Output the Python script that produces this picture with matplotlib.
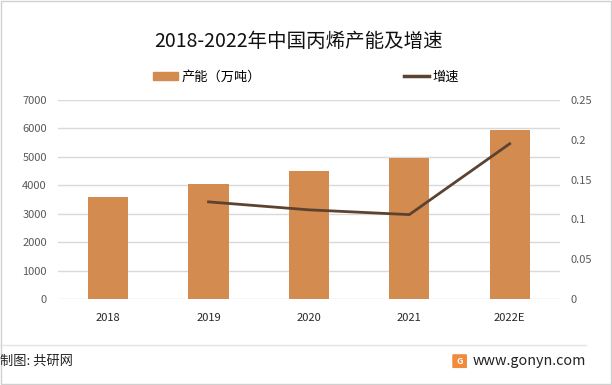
import matplotlib.pyplot as plt
from matplotlib.patches import FancyBboxPatch
from matplotlib.lines import Line2D

plt.rcParams['font.family'] = ['Noto Sans CJK SC', 'DejaVu Sans']

years = ["2018", "2019", "2020", "2021", "2022E"]
capacity = [3590, 4040, 4500, 4960, 5950]
growth_years = ["2019", "2020", "2021", "2022E"]
growth = [0.122, 0.112, 0.106, 0.195]

bar_color = "#D48B4F"
line_color = "#5C4331"

fig = plt.figure(figsize=(6.12, 3.85), dpi=100)
ax = fig.add_axes([0.0948, 0.2234, 0.82, 0.5169])
ax2 = ax.twinx()

x = list(range(len(years)))
ax.bar(x, capacity, width=0.4, color=bar_color, zorder=2)
gx = [years.index(y) for y in growth_years]
ax2.plot(gx, growth, color=line_color, lw=2, zorder=3)

ax.set_xlim(-0.5, len(years) - 0.5)
ax.set_ylim(0, 7000)
ax.set_yticks(range(0, 7001, 1000))
ax2.set_ylim(0, 0.25)
ax2.set_yticks([0, 0.05, 0.1, 0.15, 0.2, 0.25])
ax2.set_yticklabels(["0", "0.05", "0.1", "0.15", "0.2", "0.25"])
ax.set_xticks(x)
ax.set_xticklabels(years)

ax.grid(axis="y", color="#D9D9D9", lw=1, zorder=0)
ax.set_axisbelow(True)
for a in (ax, ax2):
    for s in a.spines.values():
        s.set_visible(False)
ax.tick_params(axis="y", length=0, labelsize=8, labelcolor="#595959", pad=8)
ax2.tick_params(axis="y", length=0, labelsize=8, labelcolor="#595959", pad=8)
ax.tick_params(axis="x", length=0, labelsize=8, labelcolor="#262626", pad=10)

fig.text(0.487, 0.893, "2018-2022年中国丙烯产能及增速", ha="center", va="center",
         fontsize=14, color="#111111")

handles = [plt.Rectangle((0, 0), 1, 1, color=bar_color),
           Line2D([0], [0], color=line_color, lw=2.5)]
fig.legend(handles, ["产能（万吨）", "增速"], loc="center", bbox_to_anchor=(0.5, 0.80),
           ncol=2, frameon=False, fontsize=9.5, columnspacing=10.9, handlelength=1.9,
           handleheight=0.55, handletextpad=0.2)

# footer
fig.add_artist(Line2D([0, 0.958], [0.103, 0.103], color="#E3E3E3", lw=1))
fig.text(0.0, 0.062, "制图: 共研网", ha="left", va="center", fontsize=9.5, color="#222222")
fig.text(0.958, 0.062, "www.gonyn.com", ha="right", va="center", fontsize=10.3, color="#222222")
logo = FancyBboxPatch((0.741, 0.046), 0.020, 0.032, boxstyle="round,pad=0.002",
                      transform=fig.transFigure, color="#F08A3C", ec="none")
fig.add_artist(logo)
fig.text(0.751, 0.062, "G", ha="center", va="center", fontsize=6.5, color="white", weight="bold")

# outer border
fig.add_artist(plt.Rectangle((0.001, 0.002), 0.997, 0.995, transform=fig.transFigure,
                             fill=False, ec="#D0D0D0", lw=1))

fig.savefig("out.png", dpi=100)
